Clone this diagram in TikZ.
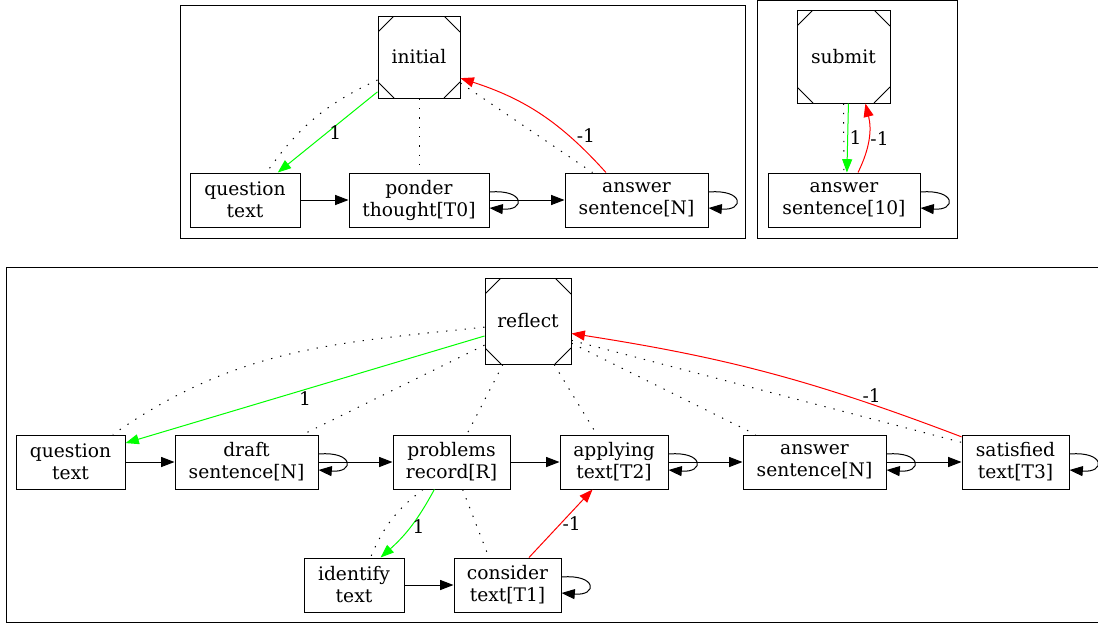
\documentclass[tikz,border=0pt]{standalone}
\usepackage{fontspec}
\setmainfont{DejaVu Serif}
\usetikzlibrary{arrows.meta}

\begin{document}
\begin{tikzpicture}[x=0.75pt,y=-0.75pt,line width=0.75pt,
  >={Triangle[length=10pt,width=7.5pt]},
  every node/.style={font=\fontsize{14}{16.5}\selectfont},
  box/.style={draw,align=center,minimum height=40.5pt,inner sep=0pt},
  msq/.style={draw,inner sep=0pt,path picture={
    \foreach \corner/\dx/\dy in {north west/1/-1,north east/-1/-1,south west/1/1,south east/-1/1}
      \draw ([yshift=\dy*12pt]path picture bounding box.\corner) -- ([xshift=\dx*12pt]path picture bounding box.\corner);
  }},
  dotline/.style={dash pattern=on 1pt off 6pt},
  lbl/.style={inner sep=1pt}]
\useasboundingbox (0,0) rectangle (1098,626);

% clusters
\draw (180,5) rectangle (745,238);
\draw (757,0.5) rectangle (957,238);
\draw (6,267) rectangle (1101,622);

\node[msq,minimum size=61.5pt] (ini) at (419,57) {initial};
\node[box,minimum width=82.5pt] (q0) at (245,200) {question\\text};
\node[box,minimum width=105pt] (pd) at (419,200) {ponder\\thought[T0]};
\node[box,minimum width=107.25pt] (an0) at (636.5,200) {answer\\sentence[N]};

\node[msq,minimum size=69.75pt] (sb) at (843.5,56.5) {submit};
\node[box,minimum width=114pt] (an10) at (844,200) {answer\\sentence[10]};

\node[msq,minimum size=64.5pt] (rf) at (528,321) {reflect};
\node[box,minimum width=81.75pt] (q1) at (70.5,462) {question\\text};
\node[box,minimum width=107.25pt] (dr) at (246.5,462) {draft\\sentence[N]};
\node[box,minimum width=87.75pt] (pb) at (451.5,462) {problems\\record[R]};
\node[box,minimum width=81pt] (ap) at (614,462) {applying\\text[T2]};
\node[box,minimum width=107.25pt] (an1) at (814.5,462) {answer\\sentence[N]};
\node[box,minimum width=80.25pt] (st) at (1015.5,462) {satisfied\\text[T3]};
\node[box,minimum width=75pt] (id) at (354,585) {identify\\text};
\node[box,minimum width=80.25pt] (cn) at (507.5,585) {consider\\text[T1]};

\foreach \a/\b in {q0/pd,pd/an0,q1/dr,dr/pb,pb/ap,ap/an1,an1/st,id/cn}
  \draw[->] (\a) -- (\b);
\foreach \n in {pd,an0,an10,dr,ap,an1,st,cn}
  \draw[->] (\n.east) ++(0,-8) .. controls +(36,-3) and +(36,3) .. ++(0,16);

% top left
\draw[dotline] (ini.209) to[bend right=15] (q0.52);
\draw[dotline] (ini) -- (pd);
\draw[dotline] (ini.328) -- (an0.148);
\draw[green,->] (ini.220) -- (q0.40) node[midway,right,lbl,black] {1};
\draw[red,->] (an0.138) to[bend right=15] node[pos=.28,right=2pt,black] {-1} (ini.333);

% top right
\draw[dotline] (sb.south) -- (an10.north);
\draw[green,->] (sb.276) -- (an10.84) node[midway,right,lbl,black] {1};
\draw[red,->] (an10.63) to[bend right=20] node[midway,right,lbl,black] {-1} (sb.295);

% bottom
\draw[dotline] (rf.188) to[out=186,in=35] (q1.33);
\draw[dotline] (rf.209) -- (dr.26);
\draw[dotline] (rf.240) -- (pb.61);
\draw[dotline] (rf.301) -- (ap.122);
\draw[dotline] (rf.333) -- (an1.155);
\draw[dotline] (rf.336) -- (st.160);
\draw[green,->] (rf.199) -- (q1.19) node[midway,below,lbl,black] {1};
\draw[red,->] (st.155) to[bend right=6] node[pos=.22,above,lbl,black] {-1} (rf.344);
\draw[dotline] (pb.224) to[bend right=15] (id.59);
\draw[green,->] (pb.238) to[bend left=10] node[midway,right,lbl,black] {1} (id.46);
\draw[dotline] (pb.292) -- (cn.124);
\draw[red,->] (cn.52) -- (ap.232) node[midway,right,lbl,black] {-1};
\end{tikzpicture}
\end{document}
